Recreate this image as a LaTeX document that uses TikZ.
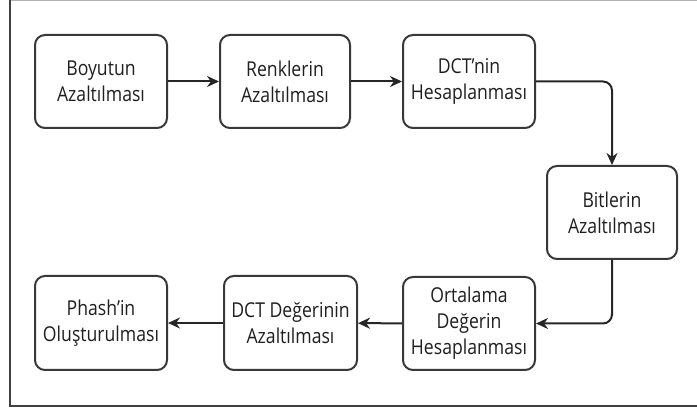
\documentclass[tikz,border=0pt]{standalone}
\usepackage{fontspec}
\setmainfont{Open Sans}[FakeStretch=0.86]
\usetikzlibrary{arrows.meta}
\begin{document}
\begin{tikzpicture}[x=1pt,y=-1pt,
  box/.style={draw=black!78, line width=2pt, rounded corners=10pt, align=center,
    font=\fontsize{20.5}{26}\selectfont, inner sep=0pt, text=black!88},
  arr/.style={draw=black!85, line width=2pt, rounded corners=9pt, -{Stealth[length=12pt,width=11pt]}}]
\useasboundingbox (0,0) rectangle (697,411);
\draw[black!30, line width=1pt] (10,0.5) -- (697,0.5);
\draw[black!75, line width=2pt] (10,0) -- (10,406) -- (697,406);

\node[box, minimum width=132pt, minimum height=93pt] (b1) at (101,81.5) {Boyutun\\Azaltılması};
\node[box, minimum width=130pt, minimum height=93pt] (b2) at (285,81.5) {Renklerin\\Azaltılması};
\node[box, minimum width=132pt, minimum height=93pt] (b3) at (469,81.5) {DCT’nin\\Hesaplanması};
\node[box, minimum width=130pt, minimum height=93pt] (b4) at (612,212.5) {Bitlerin\\Azaltılması};
\node[box, minimum width=132pt, minimum height=93pt] (b5) at (469,323.5) {Ortalama\\Değerin\\Hesaplanması};
\node[box, minimum width=133pt, minimum height=94pt] (b6) at (290.5,323) {DCT Değerinin\\Azaltılması};
\node[box, minimum width=132pt, minimum height=94pt] (b7) at (101,323) {Phash’in\\Oluşturulması};

\draw[arr] (b1) -- (b2);
\draw[arr] (b2) -- (b3);
\draw[arr] (b3.east) -| (b4.north);
\draw[arr] (b4.south) |- (b5.east);
\draw[arr] (b5) -- (b6);
\draw[arr] (b6) -- (b7);
\end{tikzpicture}
\end{document}
